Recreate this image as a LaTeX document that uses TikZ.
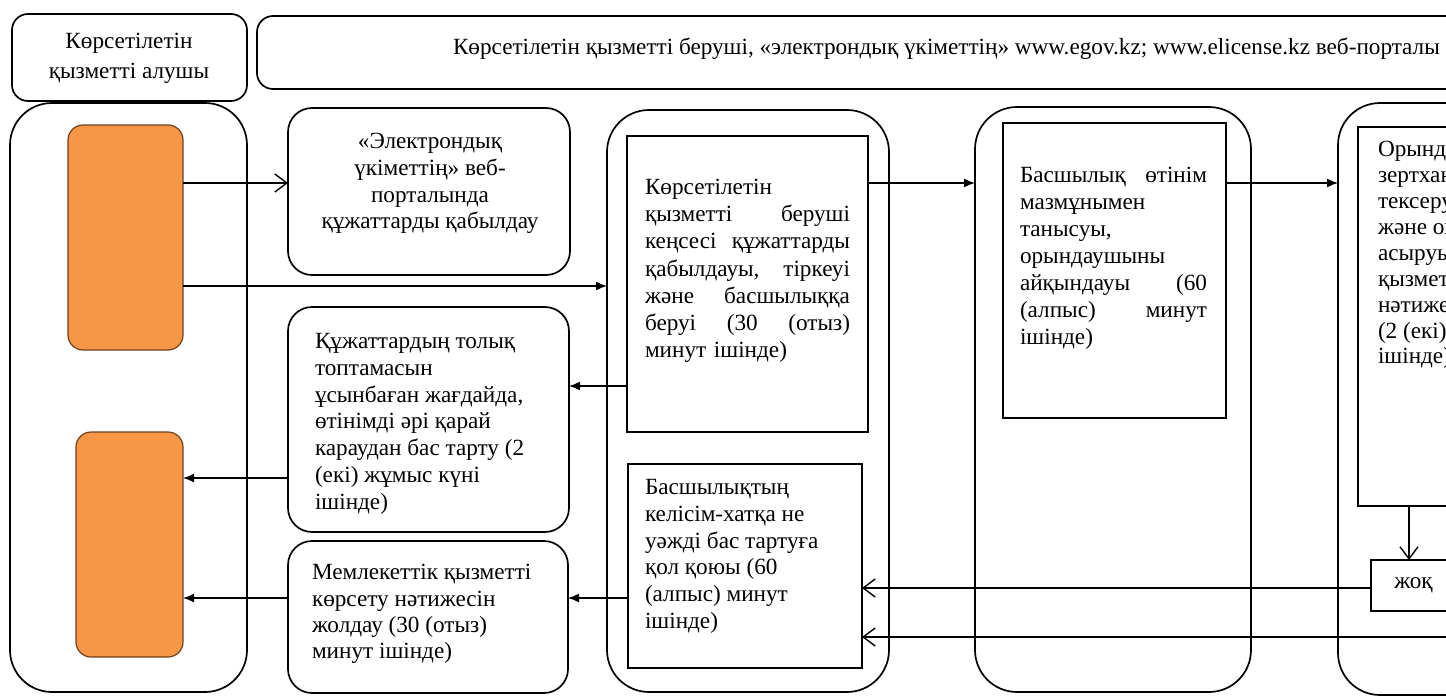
\documentclass[tikz,border=0pt]{standalone}
\usepackage{fontspec}
\setmainfont{Liberation Serif}
\usetikzlibrary{arrows.meta}
\definecolor{orfill}{RGB}{247,150,70}
\definecolor{oredge}{RGB}{110,65,30}
\begin{document}
\begin{tikzpicture}[x=1pt,y=-1pt,
  every node/.style={inner sep=0pt, outer sep=0pt},
  sz/.style 2 args={minimum width=#1pt, minimum height=#2pt},
  shp/.style={draw, line width=1.7pt, anchor=north west},
  lane/.style={shp, rounded corners=42pt},
  rbox/.style={shp, rounded corners=24pt},
  hbox/.style={shp, rounded corners=16pt},
  sbox/.style={shp},
  obox/.style={anchor=north west, fill=orfill, draw=oredge, line width=1.2pt, rounded corners=15pt},
  txt/.style={font=\fontsize{23.2}{27}\selectfont, align=left, anchor=north west, execute at begin node={\rule{0pt}{18pt}}},
  fa/.style={-{Latex[length=11pt,width=9pt]}, line width=1.4pt},
  oa/.style={-{Straight Barb[length=12pt,width=18pt]}, line width=1.4pt}
]
\useasboundingbox (0,0) rectangle (1446,696);
\clip (0,0) rectangle (1446,696);

% headers
\node[hbox, sz={235}{87}] (H1) at (12,14) {};
\node[hbox, sz={1223}{73}] (H2) at (257,16) {};
\node[txt, align=center, anchor=north, font=\fontsize{23.2}{30}\selectfont] (H1t) at (129,33.4) {Көрсетілетін\\қызметті алушы};
\node[txt] (H2t) at (453,36.4) {Көрсетілетін қызметті беруші, «электрондық үкіметтің» www.egov.kz; www.elicense.kz веб-порталы};

% lanes
\node[lane, sz={237}{589}] (L1) at (10,103) {};
\node[lane, sz={282}{582}] (L2) at (607,110) {};
\node[lane, sz={276}{585}] (L3) at (975,107) {};
\node[lane, sz={182}{592}] (L4) at (1338,103) {};

% orange boxes
\node[obox, sz={115}{225}] (OR1) at (68,125) {};
\node[obox, sz={107}{225}] (OR2) at (76,432) {};

% lane 1-2 boxes
\node[rbox, sz={282}{167}] (E) at (288,108) {};
\node[txt, align=center, anchor=north, font=\fontsize{23.2}{26.7}\selectfont] (Et) at (430,133.4) {«Электрондық\\үкіметтің» веб-\\порталында\\құжаттарды қабылдау};

\node[rbox, sz={281}{225}] (K) at (288,307) {};
\node[txt, font=\fontsize{23.2}{26.8}\selectfont] (Kt) at (315,333.4) {Құжаттардың толық\\топтамасын\\ұсынбаған жағдайда,\\өтінімді әрі қарай\\караудан бас тарту (2\\(екі) жұмыс күні\\ішінде)};

\node[rbox, sz={280}{152}] (M) at (288,541) {};
\node[txt, font=\fontsize{23.2}{26.3}\selectfont] (Mt) at (312,564.4) {Мемлекеттік қызметті\\көрсету нәтижесін\\жолдау (30 (отыз)\\минут ішінде)};

\node[sbox, sz={241}{296}] (B2a) at (627,136) {};
\node[txt, text width=205pt, font=\fontsize{23.2}{27.2}\selectfont] (B2at) at (645,176.4) {Көрсетілетін\\қызметті\hfill беруші\\кеңсесі\hfill құжаттарды\\қабылдауы,\hfill тіркеуі\\және\hfill басшылыққа\\беруі\hfill (30\hfill (отыз)\\минут ішінде)};

\node[sbox, sz={234}{204}] (B2b) at (628,464) {};
\node[txt, font=\fontsize{23.2}{26.8}\selectfont] (B2bt) at (645,479.4) {Басшылықтың\\келісім-хатқа не\\уәжді бас тартуға\\қол қоюы (60\\(алпыс) минут\\ішінде)};

\node[sbox, sz={223}{295}] (B3) at (1003,123) {};
\node[txt, text width=187pt, font=\fontsize{23.2}{27}\selectfont] (B3t) at (1020,164.4) {Басшылық\hfill өтінім\\мазмұнымен\\танысуы,\\орындаушыны\\айқындауы\hfill (60\\(алпыс)\hfill минут\\ішінде)};

\node[sbox, sz={170}{379}] (B4) at (1358,127) {};
\node[txt, font=\fontsize{23.2}{25.9}\selectfont] (B4t) at (1378,141.4) {Орындаушының\\зертханалық\\тексеруді\\және оны жүзеге\\асыруы,\\қызметті көрсету\\нәтижесін дайындауы\\(2 (екі) жұмыс күні\\ішінде)};

\node[sbox, sz={85}{51}] (Zh) at (1371,560) {};
\node[font=\fontsize{23.2}{27}\selectfont] (Zht) at (Zh.center) {жоқ};

% helper coordinates
\coordinate (y183) at (0,183);
\coordinate (y286) at (0,286);
\coordinate (y386) at (0,386);
\coordinate (y478) at (0,478);
\coordinate (y588) at (0,588);
\coordinate (y598) at (0,598);
\coordinate (x1409) at (1409,0);
\coordinate (rin) at (1460,637);

% connectors
\draw[oa] (OR1.east |- y183) -- (E.west |- y183);
\draw[fa] (OR1.east |- y286) -- (L2.west |- y286);
\draw[fa] (B2a.east |- y183) -- (L3.west |- y183);
\draw[fa] (B3.east |- y183) -- (L4.west |- y183);
\draw[fa] (B2a.west |- y386) -- (K.east |- y386);
\draw[fa] (K.west |- y478) -- (OR2.east |- y478);
\draw[fa] (M.west |- y598) -- (OR2.east |- y598);
\draw[fa] (B2b.west |- y598) -- (M.east |- y598);
\draw[oa] (B4.south -| x1409) -- (Zh.north -| x1409);
\draw[oa] (Zh.west |- y588) -- (B2b.east |- y588);
\draw[oa] (rin) -- (B2b.east |- rin);
\end{tikzpicture}
\end{document}
